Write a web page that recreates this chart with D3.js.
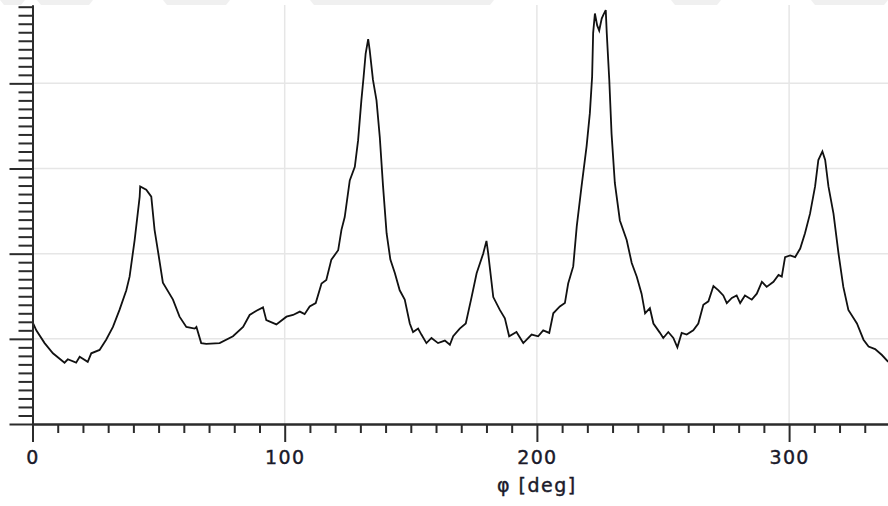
<!DOCTYPE html>
<html>
<head>
<meta charset="utf-8">
<script src="https://cdn.jsdelivr.net/npm/d3@7"></script>
<style>
	body { margin: 0; background: #fff; }
	svg { display: block; }
</style>
</head>
<body>
<svg id="chart"></svg>
<script>
const phiDeg = [
	0, 1.5, 4.8, 8.1, 12.7, 14.0, 17.3, 18.7, 21.9, 23.3,
	26.6, 29.2, 31.9, 34.5, 37.2, 38.5, 40.5, 42.5, 42.7, 45.1,
	47.1, 48.4, 49.7, 51.7, 55.7, 58.3, 61.0, 64.3, 65.0, 66.9,
	68.9, 74.2, 79.5, 83.5, 86.1, 88.8, 91.4, 92.7, 96.7, 100.7,
	103.3, 106.0, 107.9, 109.9, 112.3, 114.6, 116.5, 118.5, 121.2, 122.5,
	123.8, 125.8, 127.8, 129.1, 130.4, 131.3, 132.1, 133.1, 133.7, 135.0,
	136.4, 137.7, 139.0, 140.4, 141.9, 143.7, 145.6, 147.6, 149.6, 150.9,
	152.9, 154.2, 156.2, 158.2, 160.8, 163.5, 165.5, 166.8, 169.4, 171.8,
	174.1, 176.1, 178.7, 180.0, 180.7, 182.7, 185.3, 187.3, 189.0, 191.9,
	194.6, 197.9, 200.5, 202.5, 204.9, 206.5, 209.1, 211.1, 212.4, 214.4,
	215.8, 217.7, 219.7, 221.0, 221.9, 222.3, 223.0, 223.9, 224.7, 225.7,
	226.3, 227.3, 227.7, 228.7, 229.6, 230.9, 232.9, 235.6, 237.6, 239.6,
	241.5, 242.9, 244.8, 246.2, 248.8, 250.1, 252.1, 254.1, 255.7, 257.4,
	259.4, 262.0, 264.0, 266.0, 268.0, 270.0, 272.0, 273.9, 275.3, 277.3,
	279.2, 280.6, 282.5, 285.2, 287.2, 289.2, 291.1, 293.8, 295.8, 297.1,
	298.4, 300.4, 302.4, 304.4, 306.3, 308.3, 310.3, 311.6, 313.2, 314.3,
	315.6, 317.6, 319.6, 321.5, 323.5, 326.9, 329.5, 331.5, 334.1, 336.8,
	339.3
];
const intensity = [
	120, 110, 95, 83, 72, 76, 72, 79, 73, 83,
	87, 99, 114, 134, 157, 173, 216, 267, 279, 275,
	267, 228, 204, 166, 146, 126, 114, 112, 114, 95,
	94, 95, 103, 114, 128, 133, 137, 122, 117, 126,
	128, 132, 129, 138, 142, 165, 169, 193, 204, 228,
	243, 286, 302, 333, 380, 408, 435, 452, 439, 404,
	380, 337, 279, 224, 193, 177, 157, 146, 118, 108,
	112, 105, 95, 101, 95, 98, 93, 103, 112, 118,
	149, 177, 200, 215, 200, 149, 134, 124, 103, 108,
	95, 105, 103, 110, 107, 130, 138, 142, 165, 185,
	232, 279, 326, 365, 408, 459, 482, 468, 462, 476,
	480, 486, 459, 404, 341, 283, 239, 216, 189, 173,
	153, 130, 136, 118, 107, 101, 108, 101, 90, 107,
	105, 110, 118, 140, 144, 162, 157, 151, 142, 148,
	151, 142, 151, 146, 153, 167, 161, 167, 175, 173,
	196, 198, 196, 206, 224, 247, 279, 310, 320, 310,
	279, 247, 200, 161, 134, 118, 99, 91, 88, 81,
	73
];
const xMajorTicks = [0, 100, 200, 300];
const xLabels = ['0', '100', '200', '300'];
const yMajorTicks = [0, 100, 200, 300, 400];
const xTitle = 'φ [deg]';

const width = 888;
const height = 506;
const marginLeft = 32.5;
const marginTop = 5;
const axisY = 424;

const svg = d3.select('#chart')
	.attr('width', width)
	.attr('height', height);

//clear screen
svg.selectAll('*').remove();

const x = d3.scaleLinear()
	.domain([0, 340])
	.range([marginLeft, marginLeft + 340 * 2.522]);

const y = d3.scaleLinear()
	.domain([0, 492])
	.range([axisY, marginTop]);

const xMinor = d3.range(0, 341, 10).filter((d) => d % 100 !== 0);
const yMinor = d3.range(0, 492, 10).filter((d) => d % 100 !== 0);

// faint watermark edge along the top
const wm = [[0, 25], [37, 93], [163, 230], [310, 494], [671, 721], [811, 888]];
svg.append('g')
	.selectAll('path')
	.data(wm)
	.join('path')
	.attr('d', (d) => `M${d[0]},0L${d[1]},0L${d[1] - 4},5L${d[0] + 4},5Z`)
	.attr('fill', '#f0f0f0');

// grid lines
svg.append('g')
	.selectAll('line')
	.data(xMajorTicks.filter((d) => d > 0))
	.join('line')
	.attr('x1', (d) => x(d))
	.attr('x2', (d) => x(d))
	.attr('y1', marginTop)
	.attr('y2', axisY)
	.attr('stroke', '#e6e6e6')
	.attr('stroke-width', 1.5);

svg.append('g')
	.selectAll('line')
	.data(yMajorTicks.filter((d) => d > 0))
	.join('line')
	.attr('x1', marginLeft)
	.attr('x2', width)
	.attr('y1', (d) => y(d))
	.attr('y2', (d) => y(d))
	.attr('stroke', '#e6e6e6')
	.attr('stroke-width', 1.5);

// the curve
const line = d3.line()
	.x((d) => x(d[0]))
	.y((d) => y(d[1]));

svg.append('path')
	.datum(phiDeg.map((p, i) => [p, intensity[i]]))
	.attr('fill', 'none')
	.attr('stroke', '#111')
	.attr('stroke-width', 1.8)
	.attr('stroke-linejoin', 'miter')
	.attr('d', line);

// axes
const axisColor = '#2b2b2b';
const textColor = '#1a1a2a';

const gx = svg.append('g')
	.attr('transform', `translate(0,${axisY})`);
gx.append('g')
	.call(d3.axisBottom(x).tickValues(xMinor).tickSize(9).tickSizeOuter(0).tickFormat(''));
gx.append('g')
	.call(d3.axisBottom(x).tickValues(xMajorTicks).tickSize(18).tickSizeOuter(0)
		.tickFormat((d, i) => xLabels[i]));
gx.selectAll('.domain').attr('stroke', axisColor).attr('stroke-width', 2);
gx.selectAll('.tick line').attr('stroke', axisColor).attr('stroke-width', 2);
gx.selectAll('.tick text')
	.attr('y', 40)
	.attr('dy', 0)
	.style('font', '19px "DejaVu Sans", sans-serif')
	.style('letter-spacing', '1.3px')
	.attr('fill', textColor)
	.attr('stroke', textColor)
	.attr('stroke-width', 0.4);

const gy = svg.append('g')
	.attr('transform', `translate(${marginLeft},0)`);
gy.append('g')
	.call(d3.axisLeft(y).tickValues(yMinor).tickSize(14).tickSizeOuter(0).tickFormat(''));
gy.append('g')
	.call(d3.axisLeft(y).tickValues(yMajorTicks.concat([y.invert(-2)])).tickSize(23).tickSizeOuter(0).tickFormat(''));
gy.selectAll('.domain').attr('stroke', axisColor).attr('stroke-width', 2);
gy.selectAll('.tick line').attr('stroke', axisColor).attr('stroke-width', 2);

// axis title
svg.append('text')
	.attr('x', x(200))
	.attr('y', 492)
	.attr('text-anchor', 'middle')
	.style('font', '19px "DejaVu Sans", sans-serif')
	.style('letter-spacing', '1.5px')
	.attr('fill', textColor)
	.attr('stroke', textColor)
	.attr('stroke-width', 0.4)
	.text(xTitle);
</script>
</body>
</html>
